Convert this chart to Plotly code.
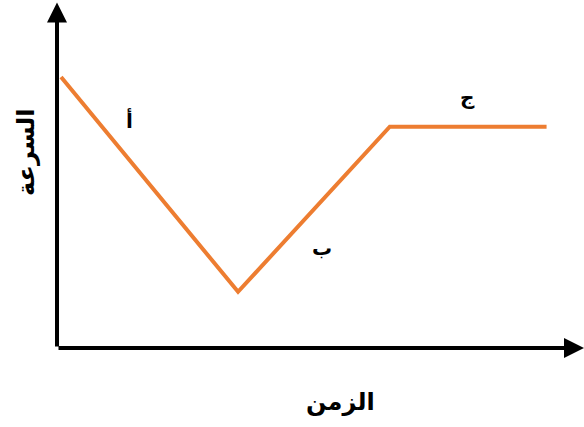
import plotly.graph_objects as go

# Data
time_vals = [0, 3.5, 6.5, 9.6]
speed_vals = [5.45, 1.13, 4.45, 4.45]
seg_labels = ["أ", "ب", "ج"]
seg_label_x = [1.36, 5.16, 8.03]
seg_label_y = [4.59, 2.01, 5.05]
x_title = "الزمن"
y_title = "السرعة"

X_MIN, X_MAX = -0.08, 10.34
Y_MIN, Y_MAX = 0, 7

fig = go.Figure()
fig.add_trace(go.Scatter(x=time_vals, y=speed_vals, mode="lines",
                         line=dict(color="#ED7D31", width=4), hoverinfo="skip"))

annotations = []
# axis arrows
annotations.append(dict(x=X_MAX, y=0, ax=X_MIN, ay=0, xref="x", yref="y", axref="x", ayref="y",
                        showarrow=True, arrowhead=2, arrowsize=1.0, arrowwidth=4, arrowcolor="black",
                        standoff=0, startstandoff=0, text=""))
annotations.append(dict(x=X_MIN, y=6.95, ax=X_MIN, ay=0, xref="x", yref="y", axref="x", ayref="y",
                        showarrow=True, arrowhead=2, arrowsize=1.0, arrowwidth=4, arrowcolor="black",
                        standoff=0, startstandoff=0, text=""))
font = dict(family="DejaVu Sans", color="black")
for t, x, y in zip(seg_labels, seg_label_x, seg_label_y):
    annotations.append(dict(x=x, y=y, xref="x", yref="y", text="<b>%s</b>" % t, showarrow=False,
                            xanchor="center", yanchor="middle", font=dict(size=20, **font)))
# axis titles (paper coords, pixel-derived)
annotations.append(dict(x=(340 - 57) / 527, y=-(402 - 348) / 348, xref="paper", yref="paper",
                        xanchor="center", yanchor="middle",
                        text="<b>%s</b>" % x_title, showarrow=False, font=dict(size=24, **font)))
annotations.append(dict(x=(26 - 57) / 527, y=(348 - 152) / 348, xref="paper", yref="paper",
                        xanchor="center", yanchor="middle",
                        text="<b>%s</b>" % y_title, showarrow=False, textangle=-90,
                        font=dict(size=24, **font)))

fig.update_layout(
    width=584, height=427,
    margin=dict(l=57, r=0, t=0, b=79),
    paper_bgcolor="white", plot_bgcolor="white",
    showlegend=False,
    xaxis=dict(range=[X_MIN, X_MAX], showgrid=False, zeroline=False, showticklabels=False, ticks="", showline=False),
    yaxis=dict(range=[Y_MIN, Y_MAX], showgrid=False, zeroline=False, showticklabels=False, ticks="", showline=False),
    annotations=annotations,
)
fig.write_html("out.html", config={"displayModeBar": False},
               post_script="document.body.style.margin='0';document.body.style.overflow='hidden';")
